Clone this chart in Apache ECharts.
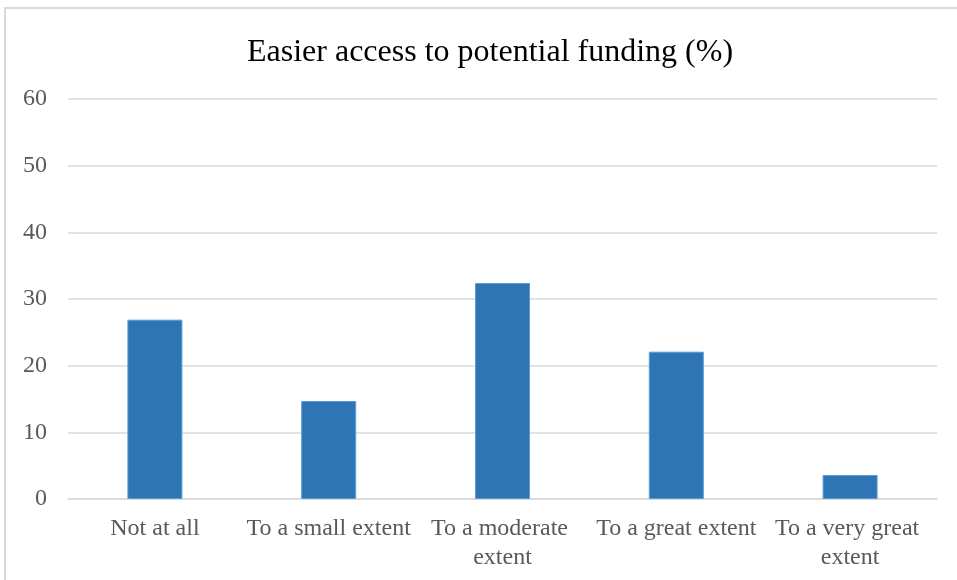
<!DOCTYPE html>
<html>
<head>
<meta charset="utf-8">
<script src="https://cdn.jsdelivr.net/npm/echarts@6/dist/echarts.min.js"></script>
<style>
  html, body { margin: 0; padding: 0; background: #ffffff; }
  #chart { width: 957px; height: 580px; }
</style>
</head>
<body>
<div id="chart"></div>
<script>
// Survey responses: easier access to potential funding
const categories = ['Not at all', 'To a small extent', 'To a moderate extent', 'To a great extent', 'To a very great extent'];
const percentages = [26.9, 14.7, 32.4, 22.1, 3.6];
const yTicks = [0, 10, 20, 30, 40, 50, 60];

const FONT = '"Liberation Serif", "Times New Roman", serif';
const chart = echarts.init(document.getElementById('chart'));

chart.setOption({
  backgroundColor: '#ffffff',
  animation: false,
  title: {
    text: 'Easier access to potential funding (%)',
    left: 242,
    top: 32,
    textStyle: { fontFamily: FONT, fontSize: 32, fontWeight: 'normal', color: '#000000' }
  },
  graphic: [{
    type: 'rect',
    shape: { x: 5, y: 8, width: 960, height: 580 },
    style: { fill: 'none', stroke: '#d9d9d9', lineWidth: 2 },
    silent: true
  }],
  grid: { left: 68, right: 20, top: 99, bottom: 81 },
  xAxis: {
    type: 'category',
    data: categories,
    axisLine: { lineStyle: { color: '#d9d9d9', width: 1.5 } },
    axisTick: { show: false },
    axisLabel: {
      interval: 0,
      margin: 15,
      width: 174,
      overflow: 'break',
      lineHeight: 29,
      fontFamily: FONT,
      fontSize: 24,
      color: '#595959'
    }
  },
  yAxis: {
    type: 'value',
    min: yTicks[0],
    max: yTicks[yTicks.length - 1],
    interval: yTicks[1] - yTicks[0],
    axisLine: { show: false },
    axisTick: { show: false },
    splitLine: { lineStyle: { color: '#d9d9d9', width: 1.5 } },
    axisLabel: {
      margin: 21,
      fontFamily: FONT,
      fontSize: 24,
      color: '#595959'
    }
  },
  series: [{
    type: 'bar',
    data: percentages,
    barWidth: 55,
    itemStyle: { color: '#2e75b6', borderColor: '#5b9bd5', borderWidth: 1 }
  }]
});
</script>
</body>
</html>
